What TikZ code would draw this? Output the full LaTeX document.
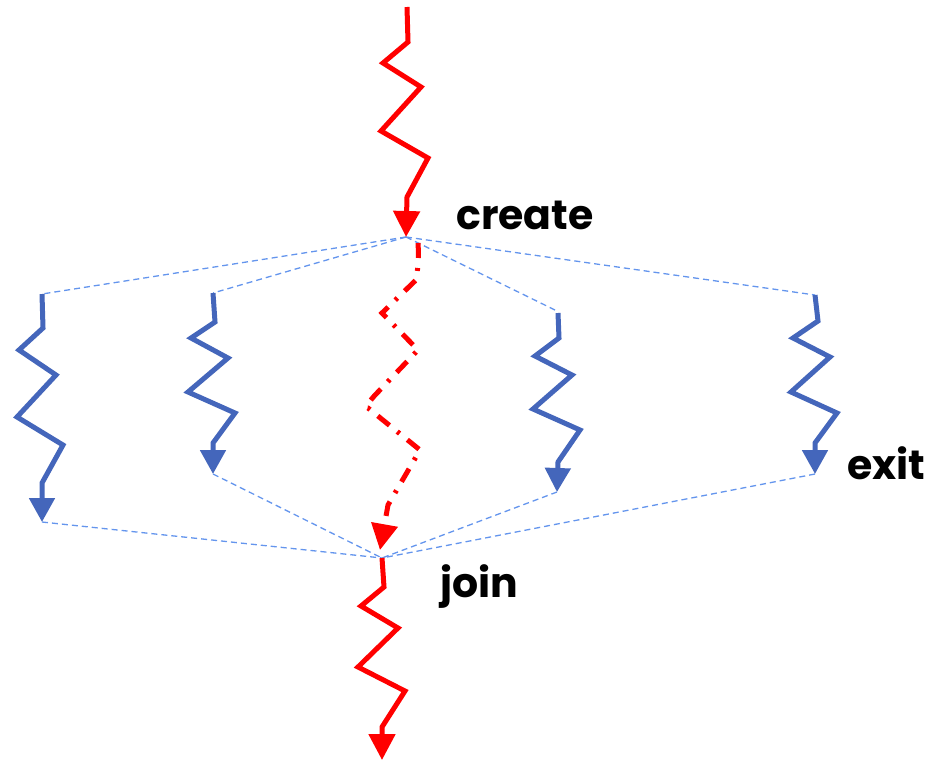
\documentclass[tikz,border=0pt]{standalone}
\usepackage{fontspec}
\setmainfont{Poppins}
\usetikzlibrary{arrows.meta}
\definecolor{thr}{HTML}{4466BB}
\definecolor{lnk}{HTML}{6495ED}
\tikzset{
  mainthr/.style={draw=red,line width=5pt,line join=miter,-{Triangle[length=26pt,width=26pt]}},
  subthr/.style={draw=thr,line width=5pt,line join=miter,-{Triangle[length=24pt,width=25pt]}},
  ghost/.style={draw=red,line width=5pt,dash pattern=on 15pt off 10pt on 3pt off 10pt,-{Triangle[length=26pt,width=26pt]}},
  link/.style={draw=lnk,line width=1.3pt,dash pattern=on 6pt off 4pt},
  lbl/.style={font=\fontsize{41}{43}\selectfont\bfseries, inner sep=0pt, anchor=base west}
}
\begin{document}
\begin{tikzpicture}[x=1pt,y=-1pt]
\useasboundingbox (0,0) rectangle (943,764);
% key points
\coordinate (c) at (406,237);
\coordinate (j) at (382,558);
\coordinate (s1) at (42,294);
\coordinate (e1) at (42,522);
\coordinate (s2) at (213,293);
\coordinate (e2) at (213,474);
\coordinate (s3) at (557,311);
\coordinate (e3) at (557,492);
\coordinate (s4) at (815,295);
\coordinate (e4) at (815,474);
% dashed links
\foreach \s in {s1,s2,s3,s4} \draw[link] (c) -- (\s);
\foreach \e in {e1,e2,e3,e4} \draw[link] (\e) -- (j);
% main thread top
\draw[mainthr] (407,7) -- (408,42) -- (383,63) -- (421,87) -- (381,131) -- (428,158) -- (407,197) -- (c);
% bottom
\draw[mainthr] (j) -- (384,587) -- (361,606) -- (398,628) -- (358,667) -- (405,691) -- (382,727) -- (382,760);
% ghost center
\draw[ghost] (418,243) .. controls (419,258) and (418,268) .. (416,280) -- (382,313) -- (418,350) -- (378,392) .. controls (368,402) and (364,410) .. (368,408) -- (420,450) -- (388,505) -- (380,550);
% sub threads
\draw[subthr] (s1) -- (43,328) -- (19,350) -- (56,375) -- (17,417) -- (63,445) -- (42,483) -- (e1);
\draw[subthr] (s2) -- (215,322) -- (191,338) -- (228,358) -- (188,392) -- (235,413) -- (213,443) -- (e2);
\draw[subthr] (558,313) -- (559,338) -- (535,356) -- (572,375) -- (533,409) -- (580,430) -- (558,462) -- (e3);
\draw[subthr] (s4) -- (818,321) -- (793,338) -- (830,357) -- (791,392) -- (837,413) -- (815,443) -- (e4);
% labels
\node[lbl] (create) at (456,229) {create};
\node[lbl] (exit) at (847,479) {exit};
\node[lbl] (join) at (440,597) {join};
\end{tikzpicture}
\end{document}
